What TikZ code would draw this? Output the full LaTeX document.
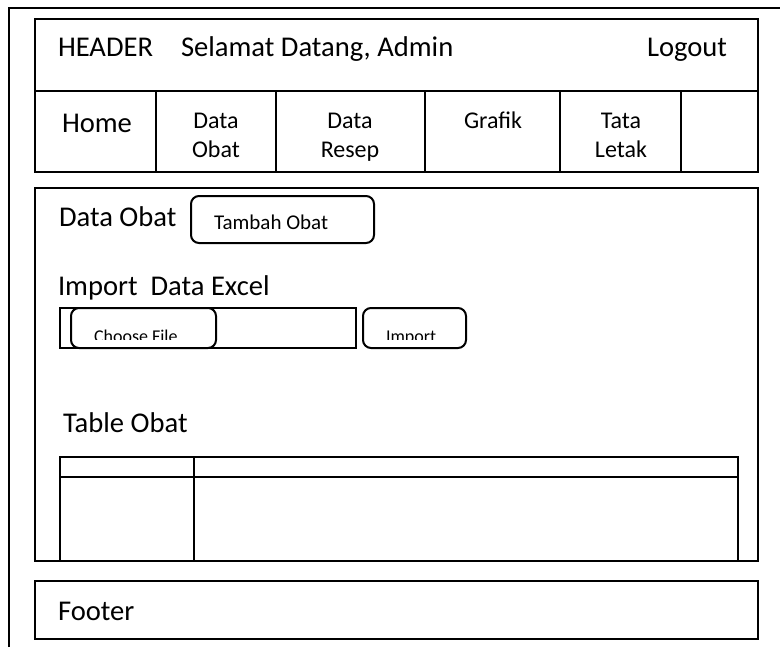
\documentclass[tikz,border=0pt]{standalone}
\usepackage{fontspec}
\setmainfont{Carlito}
\begin{document}
\begin{tikzpicture}[x=0.5pt,y=-0.5pt,line width=1pt,
  big/.style={inner sep=0pt,anchor=base west,font=\fontsize{14.3}{17}\selectfont},
  navtxt/.style={inner sep=0pt,anchor=base,font=\fontsize{12}{14}\selectfont},
  btntxt/.style={inner sep=0pt,anchor=base west,font=\fontsize{10.5}{12}\selectfont},
  filetxt/.style={inner sep=0pt,anchor=base west,font=\fontsize{9}{11}\selectfont},
  btn/.style={draw,rounded corners=4pt}]
\useasboundingbox (0,0) rectangle (780,647);

% page edge
\draw (9,647) -- (9,8) -- (780,8);

% header
\draw (35,19) rectangle (758,91);
\node[big] (hdr) at (57,57) {HEADER};
\node[big] (welcome) at (180,57) {Selamat Datang, Admin};
\node[big] (logout) at (646,57) {Logout};

% menu
\draw (35,91) rectangle (758,172);
\foreach \x in {156,276,425,560,681}
  \draw (\x,91) -- (\x,172);
\node[big] (home) at (61,133) {Home};
\node[navtxt] (obat1) at (216,128) {Data};
\node[navtxt] (obat2) at (216,157) {Obat};
\node[navtxt] (resep1) at (350,128) {Data};
\node[navtxt] (resep2) at (350,157) {Resep};
\node[navtxt] (grafik) at (493,128) {Grafik};
\node[navtxt] (tata1) at (621,128) {Tata};
\node[navtxt] (tata2) at (621,157) {Letak};

% content
\draw (35,188) rectangle (758,561);
\node[big] (dataobat) at (58,226) {Data Obat};
\draw[btn] (191,196) rectangle (374,243);
\node[btntxt] (tambah) at (213,229) {Tambah Obat};

\node[big] (excel) at (57,295) {Import\ \ Data Excel};
\draw (60,308) rectangle (356,348);
\draw[btn] (71,308) rectangle (216,348);
\draw[btn] (363,308) rectangle (466,348);
\begin{scope}
  \clip (72,310) rectangle (465,339);
  \node[filetxt] (choose) at (93,342) {Choose File};
  \node[filetxt] (import) at (385,342) {Import};
\end{scope}

\node[big] (tabel) at (62,432) {Table Obat};
\draw (60,561) -- (60,457) -- (738,457) -- (738,561);
\draw (60,477) -- (738,477);
\draw (194,457) -- (194,561);

% footer
\draw (35,581) rectangle (758,639);
\node[big] (footer) at (57,620) {Footer};
\end{tikzpicture}
\end{document}
